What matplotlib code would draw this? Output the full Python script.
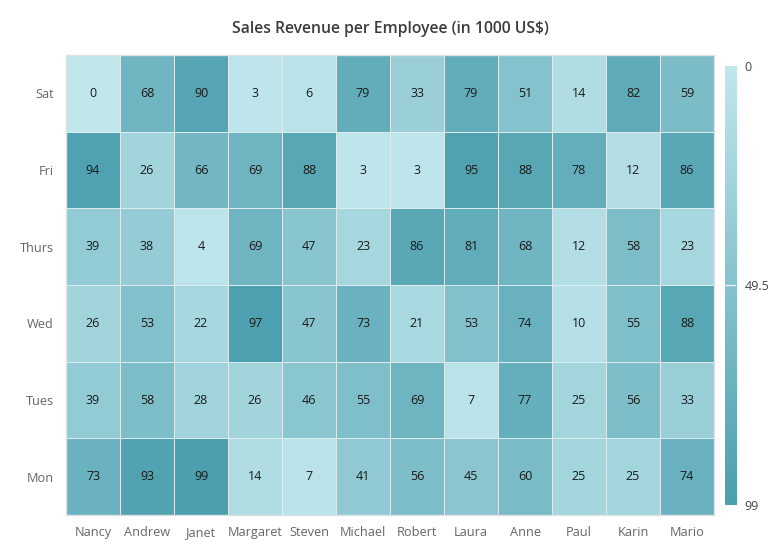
import numpy as np
import matplotlib.pyplot as plt
from matplotlib.colors import LinearSegmentedColormap

employees = ['Nancy', 'Andrew', 'Janet', 'Margaret', 'Steven', 'Michael',
             'Robert', 'Laura', 'Anne', 'Paul', 'Karin', 'Mario']
days = ['Mon', 'Tues', 'Wed', 'Thurs', 'Fri', 'Sat']

mon = [73, 93, 99, 14, 7, 41, 56, 45, 60, 25, 25, 74]
tues = [39, 58, 28, 26, 46, 55, 69, 7, 77, 25, 56, 33]
wed = [26, 53, 22, 97, 47, 73, 21, 53, 74, 10, 55, 88]
thurs = [39, 38, 4, 69, 47, 23, 86, 81, 68, 12, 58, 23]
fri = [94, 26, 66, 69, 88, 3, 3, 95, 88, 78, 12, 86]
sat = [0, 68, 90, 3, 6, 79, 33, 79, 51, 14, 82, 59]

plt.rcParams['font.family'] = ['Open Sans', 'DejaVu Sans']

values = np.array([mon, tues, wed, thurs, fri, sat])
vmin, vmax = 0, 99
cmap = LinearSegmentedColormap.from_list('teal', ['#C1E7ED', '#4B9FAE'])

fig = plt.figure(figsize=(7.75, 5.45), dpi=100)
ax = fig.add_axes([0.0852, 0.055, 0.8361, 0.844])

ax.pcolormesh(values, cmap=cmap, vmin=vmin, vmax=vmax,
              edgecolor='#DCEBEE', linewidth=0.6)
for r in range(len(days)):
    for c in range(len(employees)):
        ax.text(c + 0.5, r + 0.5, str(values[r, c]), ha='center', va='center',
                fontsize=9, color='#1a1a1a')

ax.set_xlim(0, len(employees))
ax.set_ylim(0, len(days))
ax.set_xticks(np.arange(len(employees)) + 0.5)
ax.set_xticklabels(employees)
ax.set_yticks(np.arange(len(days)) + 0.5)
ax.set_yticklabels(days)
ax.tick_params(length=0, labelsize=9.2, labelcolor='#666666')
ax.tick_params(axis='x', pad=8)
ax.tick_params(axis='y', pad=9)
for s in ax.spines.values():
    s.set_color('#DDE3E5')
    s.set_linewidth(1)

ax.set_title('Sales Revenue per Employee (in 1000 US$)', fontsize=11.3,
             fontweight='semibold', color='#3c3c3c', pad=16)

# colour bar, 0 at top
cax = fig.add_axes([0.9355, 0.0734, 0.0142, 0.8055])
grad = np.linspace(vmin, vmax, 256).reshape(-1, 1)
cax.imshow(grad, aspect='auto', cmap=cmap, vmin=vmin, vmax=vmax,
           extent=[0, 1, vmax, vmin])
cax.set_ylim(vmax, vmin)
cax.axhline((vmin + vmax) / 2, color='#EAF4F6', linewidth=1)
cax.set_xticks([])
cax.yaxis.tick_right()
cax.set_yticks([vmin, (vmin + vmax) / 2, vmax])
cax.set_yticklabels(['0', '49.5', '99'])
cax.tick_params(length=0, labelsize=9, labelcolor='#444444', pad=6)
for s in cax.spines.values():
    s.set_visible(False)

fig.savefig('out.png', dpi=100)
